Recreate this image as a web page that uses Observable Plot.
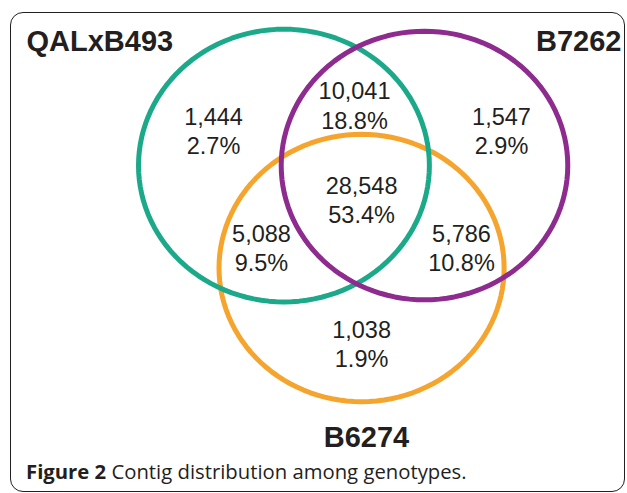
<!DOCTYPE html>
<html>
<head>
<meta charset="utf-8">
<script src="https://cdn.jsdelivr.net/npm/d3@7"></script>
<script src="https://cdn.jsdelivr.net/npm/@observablehq/plot@0.6"></script>
<style>
  html, body { margin: 0; padding: 0; background: #fff; }
  #wrap { position: relative; width: 627px; height: 493px; overflow: hidden; }
  #frame { position: absolute; left: 10px; top: 12px; width: 615px; height: 480px;
           border: 1.4px solid #231f20; border-radius: 13px; box-sizing: border-box; }
  #chart { position: absolute; left: 0; top: 0; }
  #caption { position: absolute; left: 26px; top: 459px; font-family: "Open Sans", sans-serif;
             font-size: 20.3px; line-height: 24px; color: #231f20; white-space: nowrap; }
  #caption b { font-weight: 700; }
</style>
</head>
<body>
<div id="wrap">
  <div id="frame"></div>
  <div id="chart"></div>
  <div id="caption"><b>Figure 2</b> Contig distribution among genotypes.</div>
</div>
<script>
// ---- data ----
const setNames = ["QALxB493", "B7262", "B6274"];
const setColors = ["#1ca98a", "#8d2b8f", "#f5a52d"];
const regionCounts = [1444, 10041, 1547, 28548, 5088, 5786, 1038];
const regionPercents = [2.7, 18.8, 2.9, 53.4, 9.5, 10.8, 1.9];

// ---- layout (Venn units) ----
const circleCx = [-0.483, 0.493, 0.056];
const circleCy = [0.259, 0.259, -0.5];
const circleR = [1.01, 0.995, 0.99];
const regionX = [-0.972, 0.007, 1.028, 0.056, -0.639, 0.75, 0.056];
const regionY = [0.52, 0.71, 0.52, 0.01, -0.346, -0.346, -1.057];
const nameX = [-2.271, 1.861, 0.09];
const nameY = [1.178, 1.178, -1.756];
const nameAnchor = ["start", "end", "middle"];
const drawOrder = [2, 0, 1];

const fmt = d3.format(",");
const angles = d3.range(0, 360, 3).map(a => a * Math.PI / 180);
const outline = drawOrder.flatMap(i => angles.map(t => ({
  set: setNames[i], color: setColors[i],
  x: circleCx[i] + circleR[i] * Math.cos(t),
  y: circleCy[i] + circleR[i] * Math.sin(t)
})));
const regions = regionCounts.map((c, i) => ({
  x: regionX[i], y: regionY[i], label: fmt(c) + "\n" + regionPercents[i] + "%"
}));
const names = setNames.map((n, i) => ({ name: n, x: nameX[i], y: nameY[i], anchor: nameAnchor[i] }));

const chart = Plot.plot({
  width: 627,
  height: 450,
  margin: 0,
  style: { background: "transparent", overflow: "visible" },
  x: { domain: [-2.4514, 1.9028], axis: null },
  y: { domain: [-1.8519, 1.4815], axis: null },
  color: { type: "identity" },
  marks: [
    Plot.line(outline, { x: "x", y: "y", z: "set", stroke: "color", strokeWidth: 5, curve: "linear-closed" }),
    Plot.text(regions, { x: "x", y: "y", text: "label", fontSize: 23.5, lineHeight: 1.25,
      fill: "#231f20", fontFamily: "Liberation Sans, Arial, sans-serif" }),
    ...["start", "end", "middle"].map(a =>
      Plot.text(names.filter(d => d.anchor === a), { x: "x", y: "y", text: "name", textAnchor: a,
        fontSize: 29, fontWeight: "bold", fill: "#231f20", fontFamily: "Liberation Sans, Arial, sans-serif" }))
  ]
});
document.getElementById("chart").appendChild(chart);
</script>
</body>
</html>
